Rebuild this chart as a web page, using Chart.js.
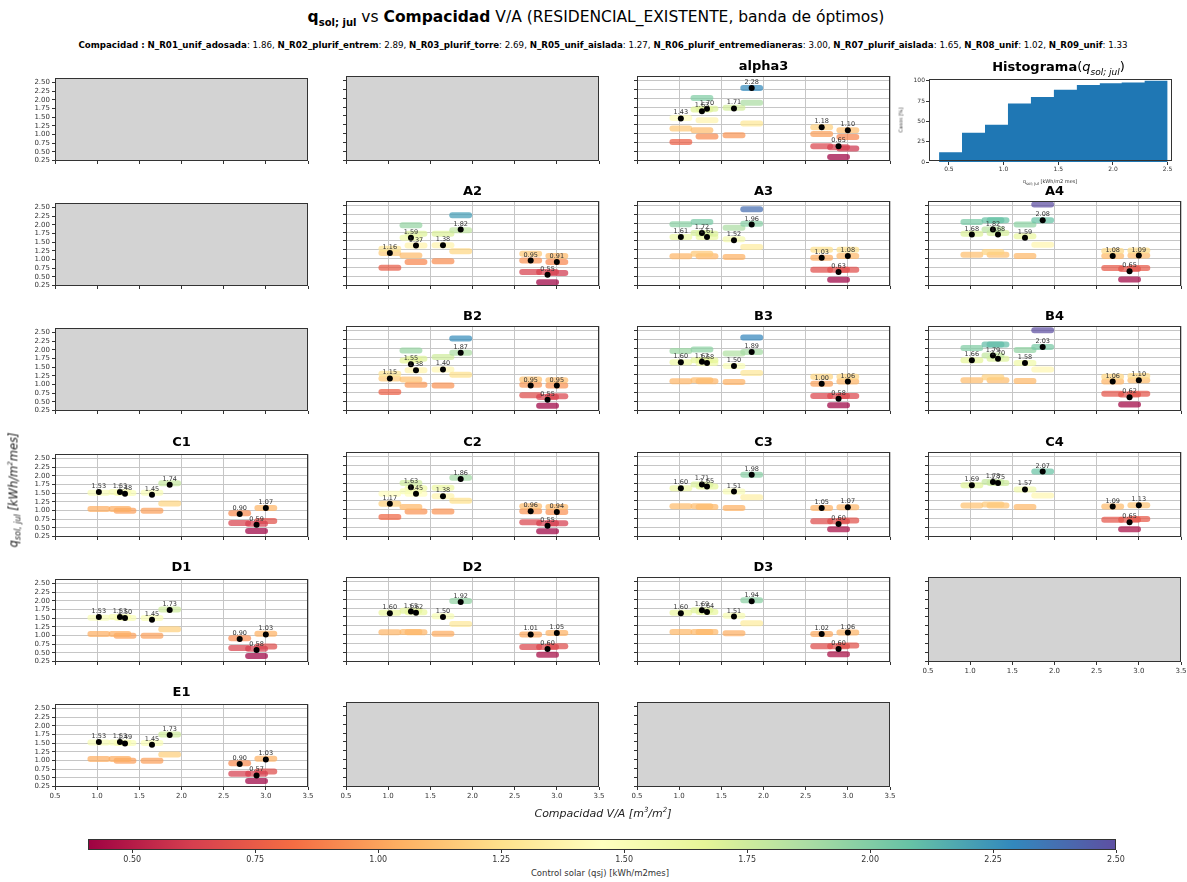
<!DOCTYPE html>
<html><head><meta charset="utf-8">
<script src="https://cdn.jsdelivr.net/npm/chart.js@4.4.0/dist/chart.umd.min.js"></script>
<style>
body{margin:0;background:#fff;width:1187px;height:882px;position:relative;overflow:hidden;font-family:"DejaVu Sans",sans-serif;}
canvas{position:absolute;}
.t{position:absolute;white-space:nowrap;color:#000;line-height:1;}
</style></head><body>
<script>
// ---------------- DATA ----------------
const edificios = ['N_R01_unif_adosada','N_R02_plurif_entrem','N_R03_plurif_torre','N_R05_unif_aislada','N_R06_plurif_entremedianeras','N_R07_plurif_aislada','N_R08_unif','N_R09_unif'];
const compacidad = [1.86, 2.89, 2.69, 1.27, 3.00, 1.65, 1.02, 1.33];
const xTicks = [0.5, 1.0, 1.5, 2.0, 2.5, 3.0, 3.5];
const yTicks = [0.25, 0.50, 0.75, 1.00, 1.25, 1.50, 1.75, 2.00, 2.25, 2.50];
const cbTicks = [0.50, 0.75, 1.00, 1.25, 1.50, 1.75, 2.00, 2.25, 2.50];
const histEdges = [0.41, 0.62, 0.83, 1.04, 1.25, 1.46, 1.67, 1.88, 2.08, 2.29, 2.50];
const histCum = [12, 36, 46, 72, 80, 89, 95, 97, 98, 100];
const histXTicks = [0.5, 1.0, 1.5, 2.0, 2.5];
const histYTicks = [0, 25, 50, 75, 100];

// order of buildings: R01, R02, R03, R05, R06, R07, R08, R09
const dots_alpha3 = [2.28, 0.65, 1.18, 1.63, 1.10, 1.71, 1.43, 1.70];
const bands_alpha3 = [[2.28,1.87,1.29],[0.62,0.35],[1.18,0.99,0.65],[2.00,1.68,1.10],[1.10,0.91,0.59],[1.73,0.96],[1.44,1.15,0.77],[1.70,1.38,0.92]];
const dots_A2 = [1.82, 0.55, 0.95, 1.59, 0.91, 1.38, 1.16, 1.37];
const bands_A2 = [[2.22,1.80,1.21],[0.63,0.34],[1.14,0.95,0.63],[1.94,1.59,1.09],[1.08,0.91,0.60],[1.70,1.38,0.93],[1.28,1.16,0.75],[1.70,1.37,0.91]];
const dots_A3 = [1.96, 0.63, 1.03, 1.72, 1.08, 1.52, 1.61, 1.61];
const bands_A3 = [[2.39,1.98,1.33],[0.69,0.41],[1.25,1.03,0.69],[2.03,1.72,1.14],[1.25,1.08,0.69],[1.87,1.55,1.05],[1.97,1.61,1.07],[1.70,1.61,1.07]];
const dots_A4 = [2.08, 0.65, 1.08, 1.82, 1.09, 1.59, 1.68, 1.68];
const bands_A4 = [[2.52,2.08,1.39],[0.71,0.42],[1.22,1.08,0.74],[2.08,1.82,1.19],[1.23,1.09,0.74],[1.96,1.63,1.08],[2.03,1.70,1.11],[2.08,1.72,1.11]];
const dots_B2 = [1.87, 0.55, 0.95, 1.55, 0.95, 1.40, 1.15, 1.38];
const bands_B2 = [[2.27,1.87,1.25],[0.63,0.38],[1.12,0.97,0.68],[1.93,1.65,1.12],[1.10,0.95,0.65],[1.75,1.40,0.95],[1.28,1.15,0.77],[1.70,1.38,0.97]];
const dots_B3 = [1.89, 0.58, 1.00, 1.62, 1.06, 1.50, 1.60, 1.58];
const bands_B3 = [[2.30,1.89,1.30],[0.66,0.40],[1.20,1.00,0.66],[1.96,1.66,1.10],[1.20,1.06,0.66],[1.85,1.50,1.05],[1.92,1.60,1.07],[1.66,1.58,1.07]];
const dots_B4 = [2.03, 0.62, 1.06, 1.79, 1.10, 1.58, 1.66, 1.70];
const bands_B4 = [[2.50,2.03,1.40],[0.70,0.42],[1.20,1.06,0.72],[2.10,1.79,1.18],[1.22,1.10,0.72],[1.95,1.58,1.08],[2.00,1.66,1.10],[2.10,1.70,1.10]];
const dots_C1 = [1.74, 0.59, 0.90, 1.53, 1.07, 1.45, 1.53, 1.48];
const bands_C1 = [[1.78,1.20],[0.62,0.41],[0.92,0.64],[1.53,1.04],[1.07,0.70],[1.51,0.99],[1.51,1.04],[1.50,0.99]];
const dots_C2 = [1.86, 0.55, 0.96, 1.63, 0.94, 1.38, 1.17, 1.45];
const bands_C2 = [[1.90,1.25],[0.62,0.40],[1.10,0.96,0.65],[1.75,1.52,1.08],[1.08,0.94,0.62],[1.62,1.38,0.95],[1.45,1.17,0.80],[1.60,1.45,0.95]];
const dots_C3 = [1.98, 0.60, 1.05, 1.71, 1.07, 1.51, 1.60, 1.65];
const bands_C3 = [[1.98,1.35],[0.68,0.45],[1.05,0.68],[1.71,1.10],[1.07,0.70],[1.51,1.05],[1.60,1.10],[1.65,1.08]];
const dots_C4 = [2.07, 0.65, 1.09, 1.78, 1.13, 1.57, 1.69, 1.75];
const bands_C4 = [[2.07,1.40],[0.72,0.45],[1.09,0.72],[1.78,1.15],[1.13,0.74],[1.57,1.08],[1.69,1.12],[1.75,1.12]];
const dots_D1 = [1.73, 0.58, 0.90, 1.53, 1.03, 1.45, 1.53, 1.50];
const bands_D1 = [[1.75,1.18],[0.62,0.41],[0.92,0.64],[1.53,1.04],[1.05,0.68],[1.50,0.99],[1.51,1.04],[1.50,0.99]];
const dots_D2 = [1.92, 0.60, 1.01, 1.65, 1.05, 1.50, 1.60, 1.62];
const bands_D2 = [[1.95,1.30],[0.66,0.44],[1.01,0.66],[1.67,1.08],[1.05,0.68],[1.52,1.03],[1.62,1.07],[1.63,1.07]];
const dots_D3 = [1.94, 0.60, 1.02, 1.69, 1.06, 1.51, 1.60, 1.64];
const bands_D3 = [[1.97,1.32],[0.68,0.45],[1.02,0.68],[1.69,1.08],[1.06,0.70],[1.53,1.04],[1.62,1.08],[1.64,1.08]];
const dots_E1 = [1.73, 0.57, 0.90, 1.53, 1.03, 1.45, 1.53, 1.49];
const bands_E1 = [[1.75,1.17],[0.62,0.41],[0.92,0.62],[1.52,1.04],[1.05,0.68],[1.50,0.99],[1.52,1.04],[1.50,0.99]];

// ---------------- STYLE / LAYOUT ----------------
const F = '"DejaVu Sans", sans-serif';
const CB_MIN = 0.41, CB_MAX = 2.5;
const Y_MIN = 0.236, Y_MAX = 2.62;
const HALF = 0.10;
const COL_LEFT = [55, 346, 637, 928];
const rowTop = r => Math.round(76 + 125.2 * r);
const PW = 253, PH = 85;
const L = 34, R = 10, T = 4, B = 20;
const SPECTRAL = ['#9e0142','#d53e4f','#f46d43','#fdae61','#fee08b','#ffffbf','#e6f598','#abdda4','#66c2a5','#3288bd','#5e4fa2'];
function hex(h){return [parseInt(h.slice(1,3),16),parseInt(h.slice(3,5),16),parseInt(h.slice(5,7),16)];}
function cmap(v, a){ if(a===undefined)a=1; let t=(v-CB_MIN)/(CB_MAX-CB_MIN); t=Math.max(0,Math.min(1,t)); const p=t*10; const i=Math.min(9,Math.floor(p)); const f=p-i; const c0=hex(SPECTRAL[i]), c1=hex(SPECTRAL[i+1]); const c=c0.map((x,k)=>Math.round(x+(c1[k]-x)*f)); return 'rgba('+c[0]+','+c[1]+','+c[2]+','+a+')'; }

function makeCanvas(left, top, w, h){ const c=document.createElement('canvas'); c.width=w; c.height=h; c.style.left=left+'px'; c.style.top=top+'px'; c.style.width=w+'px'; c.style.height=h+'px'; document.body.appendChild(c); return c; }
function addText(html, x, y, css){ const d=document.createElement('div'); d.className='t'; d.innerHTML=html; d.style.cssText += css; d.style.left=x+'px'; d.style.top=y+'px'; document.body.appendChild(d); return d; }

const framePlugin = {
  id:'frame',
  beforeDraw(chart, args, o){ if(o.bg){ const a=chart.chartArea, ctx=chart.ctx; ctx.save(); ctx.fillStyle=o.bg; ctx.fillRect(a.left,a.top,a.right-a.left,a.bottom-a.top); ctx.restore(); } },
  afterDraw(chart, args, o){ const a=chart.chartArea, ctx=chart.ctx; ctx.save(); ctx.strokeStyle=o.color||'#333'; ctx.lineWidth=1; ctx.strokeRect(Math.floor(a.left)+0.5, Math.floor(a.top)+0.5, Math.round(a.right-a.left)-1, Math.round(a.bottom-a.top)-1); ctx.restore(); }
};
const labelPlugin = {
  id:'dotLabels',
  afterDatasetsDraw(chart, args, o){ if(!o.show) return; const ds=chart.data.datasets[0]; const meta=chart.getDatasetMeta(0); const ctx=chart.ctx; ctx.save(); ctx.font='6.5px '+F; ctx.fillStyle='#333'; ctx.textAlign='center'; ctx.textBaseline='alphabetic'; meta.data.forEach((pt,i)=>{ ctx.fillText(ds.data[i].y.toFixed(2), pt.x, pt.y-4); }); ctx.restore(); }
};

function scatterPanel(row, col, name, dots, bands, showX, showY){
  const left = COL_LEFT[col], top = rowTop(row);
  const c = makeCanvas(left - L, top - T, L + PW + R, T + PH + B);
  const datasets = [];
  if (dots){
    datasets.push({data: compacidad.map((x,i)=>({x:x, y:dots[i]})), pointRadius:3, pointBackgroundColor:'#000', pointBorderWidth:0, showLine:false, order:0});
    bands.forEach((list,i)=>list.forEach(y=>{
      datasets.push({data:[{x:compacidad[i]-HALF,y:y},{x:compacidad[i]+HALF,y:y}], showLine:true, borderColor:cmap(y,0.72), borderWidth:6, borderCapStyle:'round', pointRadius:0, order:1});
    }));
  }
  const gridOpt = {color:'#c6c6c6', lineWidth:1, drawOnChartArea:!!dots, drawTicks:true, tickLength:3, tickColor:'#333'};
  new Chart(c, {
    type:'scatter', data:{datasets},
    options:{
      responsive:false, animation:false, devicePixelRatio:1, events:[],
      layout:{padding:{left:0, top:T, right:R, bottom:0}},
      plugins:{legend:{display:false}, tooltip:{enabled:false}, frame:{bg: dots?null:'#d3d3d3', color:'#333'}, dotLabels:{show:!!dots}},
      scales:{
        x:{type:'linear', min:0.5, max:3.5,
           afterBuildTicks:s=>{s.ticks=xTicks.map(v=>({value:v}));}, afterFit:s=>{s.height=B;},
           grid:gridOpt, border:{display:false},
           ticks:{display:showX, autoSkip:false, maxRotation:0, font:{size:7,family:F}, color:'#333', padding:2, callback:v=>Number(v).toFixed(1)}},
        y:{type:'linear', min:Y_MIN, max:Y_MAX,
           afterBuildTicks:s=>{s.ticks=yTicks.map(v=>({value:v}));}, afterFit:s=>{s.width=L;},
           grid:gridOpt, border:{display:false},
           ticks:{display:showY, autoSkip:false, font:{size:7,family:F}, color:'#333', padding:2, callback:v=>Number(v).toFixed(2)}}
      }
    },
    plugins:[framePlugin, labelPlugin]
  });
  if (name) addText('<b>'+name+'</b>', left + PW/2, top - 17, 'font-size:13px;transform:translateX(-50%);');
}

function histPanel(){
  const left=929, top=79, w=243, h=83, hl=26, hb=16, hr=8, ht=4;
  const c = makeCanvas(left-hl, top-ht, hl+w+hr, ht+h+hb);
  const pts = histEdges.map((e,i)=>({x:e, y: histCum[Math.min(i, histCum.length-1)]}));
  new Chart(c, {
    type:'line',
    data:{datasets:[{data:pts, stepped:'before', fill:'origin', backgroundColor:'#1f77b4', borderColor:'#1f77b4', borderWidth:0, pointRadius:0}]},
    options:{
      responsive:false, animation:false, devicePixelRatio:1, events:[],
      layout:{padding:{left:0, top:ht, right:hr, bottom:0}},
      plugins:{legend:{display:false}, tooltip:{enabled:false}, frame:{color:'#333'}, dotLabels:{show:false}},
      scales:{
        x:{type:'linear', min:0.318, max:2.54, afterBuildTicks:s=>{s.ticks=histXTicks.map(v=>({value:v}));}, afterFit:s=>{s.height=hb;},
           grid:{drawOnChartArea:false, tickLength:3, tickColor:'#333'}, border:{display:false},
           ticks:{autoSkip:false, maxRotation:0, font:{size:6,family:F}, color:'#333', padding:1, callback:v=>Number(v).toFixed(1)}},
        y:{type:'linear', min:0, max:101.5, afterBuildTicks:s=>{s.ticks=histYTicks.map(v=>({value:v}));}, afterFit:s=>{s.width=hl;},
           grid:{drawOnChartArea:false, tickLength:3, tickColor:'#333'}, border:{display:false},
           ticks:{autoSkip:false, font:{size:6,family:F}, color:'#333', padding:1, callback:v=>String(v)}}
      }
    },
    plugins:[framePlugin]
  });
  addText('<b>Histograma</b>(<i>q<sub style="font-size:9px">sol; jul</sub></i>)', left + w/2 + 8, 60, 'font-size:13px;transform:translateX(-50%);');
  addText('Casos [%]', 901, 120, 'font-size:5px;color:#333;transform:translate(-50%,-50%) rotate(-90deg);');
  addText('q<sub style="font-size:4px">sol; jul</sub> [kWh/m2 mes]', 1050, 179, 'font-size:5px;color:#333;transform:translateX(-50%);');
}

function colorbar(){
  const left=88, top=839, w=1028, h=11, pl=10, pr=12, pb=16;
  const c = makeCanvas(left-pl, top-2, pl+w+pr, 2+h+pb);
  const gradPlugin = {id:'grad', beforeDatasetsDraw(chart){ const a=chart.chartArea, ctx=chart.ctx; const g=ctx.createLinearGradient(a.left,0,a.right,0); for(let k=0;k<=50;k++){ const v=CB_MIN+(CB_MAX-CB_MIN)*k/50; g.addColorStop(k/50, cmap(v,1)); } ctx.save(); ctx.fillStyle=g; ctx.fillRect(a.left,a.top,a.right-a.left,a.bottom-a.top); ctx.restore(); }};
  new Chart(c, {
    type:'scatter', data:{datasets:[]},
    options:{
      responsive:false, animation:false, devicePixelRatio:1, events:[],
      layout:{padding:{left:pl, top:2, right:pr, bottom:0}},
      plugins:{legend:{display:false}, tooltip:{enabled:false}, frame:{color:'#333'}, dotLabels:{show:false}},
      scales:{
        x:{type:'linear', min:CB_MIN, max:CB_MAX, afterBuildTicks:s=>{s.ticks=cbTicks.map(v=>({value:v}));}, afterFit:s=>{s.height=pb;},
           grid:{drawOnChartArea:false, tickLength:3, tickColor:'#333'}, border:{display:false},
           ticks:{autoSkip:false, maxRotation:0, font:{size:8,family:F}, color:'#333', padding:2, callback:v=>Number(v).toFixed(2)}},
        y:{display:false, min:0, max:1}
      }
    },
    plugins:[gradPlugin, framePlugin]
  });
  addText('Control solar (qsj) [kWh/m2mes]', 600, 869, 'font-size:8.5px;color:#333;transform:translateX(-50%);');
}

// ---------------- BUILD ----------------
addText('<b>q<sub style="font-size:10px">sol; jul</sub></b> vs <b>Compacidad</b> V/A (RESIDENCIAL_EXISTENTE, banda de óptimos)', 596, 10, 'font-size:15.5px;transform:translateX(-50%);');
addText('<b>Compacidad :</b> ' + edificios.map((e,i)=>'<b>'+e+'</b>: '+compacidad[i].toFixed(2)).join(', '), 603, 41, 'font-size:8.7px;transform:translateX(-50%);');

scatterPanel(0,0,null,null,null,false,true);
scatterPanel(0,1,null,null,null,false,false);
scatterPanel(0,2,'alpha3',dots_alpha3,bands_alpha3,false,false);
histPanel();
scatterPanel(1,0,null,null,null,false,true);
scatterPanel(1,1,'A2',dots_A2,bands_A2,false,false);
scatterPanel(1,2,'A3',dots_A3,bands_A3,false,false);
scatterPanel(1,3,'A4',dots_A4,bands_A4,false,false);
scatterPanel(2,0,null,null,null,false,true);
scatterPanel(2,1,'B2',dots_B2,bands_B2,false,false);
scatterPanel(2,2,'B3',dots_B3,bands_B3,false,false);
scatterPanel(2,3,'B4',dots_B4,bands_B4,false,false);
scatterPanel(3,0,'C1',dots_C1,bands_C1,false,true);
scatterPanel(3,1,'C2',dots_C2,bands_C2,false,false);
scatterPanel(3,2,'C3',dots_C3,bands_C3,false,false);
scatterPanel(3,3,'C4',dots_C4,bands_C4,false,false);
scatterPanel(4,0,'D1',dots_D1,bands_D1,false,true);
scatterPanel(4,1,'D2',dots_D2,bands_D2,false,false);
scatterPanel(4,2,'D3',dots_D3,bands_D3,false,false);
scatterPanel(4,3,null,null,null,true,false);
scatterPanel(5,0,'E1',dots_E1,bands_E1,true,true);
scatterPanel(5,1,null,null,null,true,false);
scatterPanel(5,2,null,null,null,true,false);
colorbar();

addText('<i>Compacidad V/A [m<sup style="font-size:7px">3</sup>/m<sup style="font-size:7px">2</sup>]</i>', 603, 807, 'font-size:11px;color:#222;transform:translateX(-50%);');
addText('<i>q<sub style="font-size:8px">sol, jul</sub> [kWh/m<sup style="font-size:7px">2</sup>mes]</i>', 15, 490, 'font-size:11.5px;color:#222;transform:translate(-50%,-50%) rotate(-90deg);');
</script>
</body></html>
